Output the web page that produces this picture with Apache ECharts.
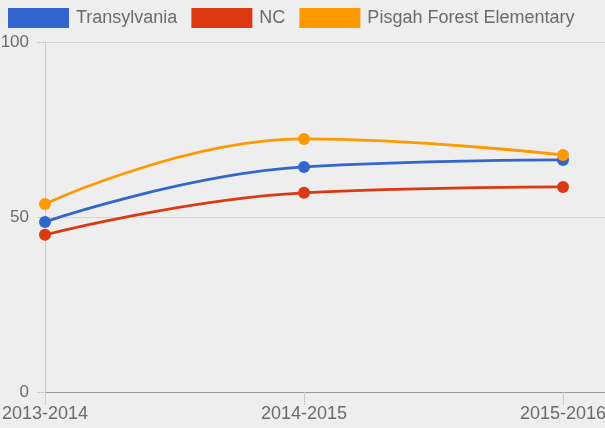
<html>
<head>
<meta charset="utf-8">
<title>Chart</title>
<script src="https://cdn.jsdelivr.net/npm/echarts@6/dist/echarts.min.js"></script>
<style>
  body { margin: 0; background: #eeeeee; }
</style>
</head>
<body>
<div id="main" style="width: 605px;height:428px;"></div>
<script type="text/javascript">
    var years = ['2013-2014', '2014-2015', '2015-2016'];
    var transylvania = [48.6, 64.3, 66.3];
    var nc = [44.9, 56.9, 58.6];
    var pisgah = [53.7, 72.3, 67.7];
    var yTicks = [0, 50, 100];

    function pts(vals) {
        return vals.map(function (v, i) { return [i, v]; });
    }

    var myChart = echarts.init(document.getElementById('main'));
    var lineOpt = function (name, color, vals) {
        return {
            name: name,
            type: 'line',
            smooth: 0.45,
            symbol: 'circle',
            symbolSize: 12,
            lineStyle: { width: 2.8, color: color },
            itemStyle: { color: color },
            data: pts(vals)
        };
    };
    myChart.setOption({
        backgroundColor: '#eeeeee',
        textStyle: { fontFamily: 'Liberation Sans, Arial, sans-serif' },
        legend: {
            left: 8,
            top: 8,
            padding: 0,
            itemWidth: 61,
            itemHeight: 20,
            itemGap: 14,
            icon: 'rect',
            textStyle: { color: '#6b6b6b', fontSize: 18, padding: [0, 0, 0, 2] },
            data: ['Transylvania', 'NC', 'Pisgah Forest Elementary']
        },
        grid: { left: 45, right: 0, top: 42, bottom: 36, containLabel: false, outerBoundsMode: 'none' },
        xAxis: {
            type: 'value',
            min: 0,
            max: 2.162,
            interval: 1,
            axisLine: { show: true, lineStyle: { color: '#999', width: 1 } },
            axisTick: { show: true, length: 13, lineStyle: { color: '#ccc' } },
            axisLabel: {
                color: '#6b6b6b', fontSize: 18, margin: 13,
                showMaxLabel: false,
                formatter: function (v) { return years[Math.round(v)] || ''; }
            },
            splitLine: { show: false }
        },
        yAxis: {
            type: 'value',
            min: yTicks[0],
            max: yTicks[yTicks.length - 1],
            interval: 50,
            axisLine: { show: true, lineStyle: { color: '#ccc' } },
            axisTick: { show: true, length: 8, lineStyle: { color: '#ccc' } },
            axisLabel: { color: '#6b6b6b', fontSize: 17, margin: 16 },
            splitLine: { show: true, lineStyle: { color: '#d6d6d6' } }
        },
        series: [
            lineOpt('Transylvania', '#3366cc', transylvania),
            lineOpt('NC', '#dc3912', nc),
            lineOpt('Pisgah Forest Elementary', '#ff9900', pisgah)
        ]
    });
</script>
</body>
</html>
